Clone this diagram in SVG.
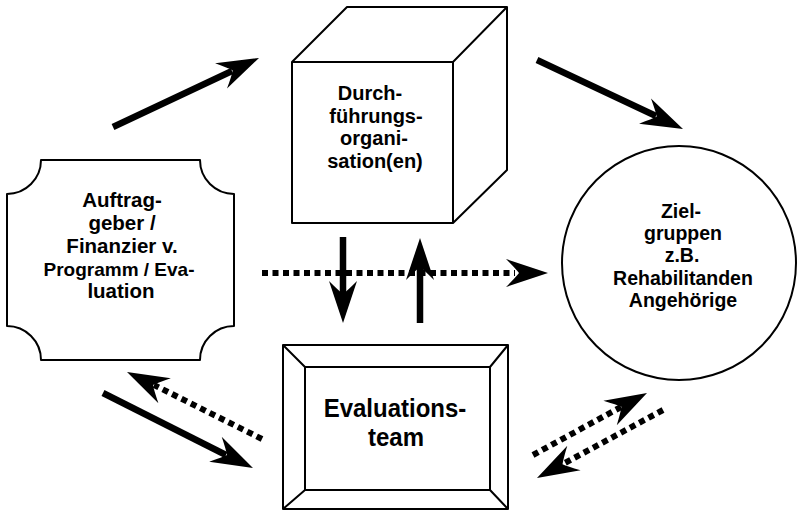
<svg xmlns="http://www.w3.org/2000/svg" width="797" height="511" viewBox="0 0 797 511">
<style>
.shape{fill:#fff;stroke:#000;stroke-width:2;stroke-linejoin:round}
.edge{fill:none;stroke:#000;stroke-width:2}
.lbl{font-family:"Liberation Sans",Arial,Helvetica,sans-serif;font-weight:bold;fill:#000;text-anchor:middle}
.solid{fill:none;stroke:#000;stroke-width:6.5;stroke-linecap:butt}
.dot{fill:none;stroke:#000;stroke-width:6;stroke-dasharray:6 4.5}
</style>
<defs>
<path id="head" d="M0,0 L-42,-14 Q-32,-4 -29,0 Q-32,4 -42,14 Z" fill="#000"/>
</defs>
<rect width="797" height="511" fill="#fff"/>

<g id="auftraggeber">
<path class="shape" d="M41,160 L200,160 A34,34 0 0 0 234,194 L234,326 A34,34 0 0 0 200,360 L41,360 A34,34 0 0 0 7,326 L7,194 A34,34 0 0 0 41,160 Z"/>
<text class="lbl" font-size="20.5" x="122" y="207">Auftrag-</text>
<text class="lbl" font-size="20.5" x="122" y="230">geber /</text>
<text class="lbl" font-size="20.5" x="122" y="253">Finanzier v.</text>
<text class="lbl" font-size="19" x="119" y="276">Programm / Eva-</text>
<text class="lbl" font-size="20.5" x="121" y="298">luation</text>
</g>

<g id="durchfuehrung">
<path class="shape" d="M292,62 L347,7 L507,7 L507,170 L453,223 L292,223 Z"/>
<path class="edge" d="M292,62 L453,62 L507,7 M453,62 L453,223"/>
<text class="lbl" font-size="20" x="370" y="100">Durch-</text>
<text class="lbl" font-size="20" x="376" y="123">führungs-</text>
<text class="lbl" font-size="20" x="374" y="145">organi-</text>
<text class="lbl" font-size="20" x="375" y="168">sation(en)</text>
</g>

<g id="zielgruppen">
<circle class="shape" cx="679" cy="263" r="117"/>
<text class="lbl" font-size="19.5" x="681" y="218">Ziel-</text>
<text class="lbl" font-size="19.5" x="683" y="240">gruppen</text>
<text class="lbl" font-size="19.5" x="682" y="262">z.B.</text>
<text class="lbl" font-size="19.5" x="683" y="285">Rehabilitanden</text>
<text class="lbl" font-size="19.5" x="683" y="307">Angehörige</text>
</g>

<g id="evaluationsteam">
<rect class="shape" x="283" y="345" width="225" height="164"/>
<rect class="edge" x="305" y="367" width="185" height="123"/>
<path class="edge" d="M283,345 L305,367 M508,345 L490,367 M283,509 L305,490 M508,509 L490,490"/>
<text class="lbl" font-size="24" transform="translate(395,417) scale(1,1.1)">Evaluations-</text>
<text class="lbl" font-size="24" transform="translate(396,446) scale(1,1.1)">team</text>
</g>

<g id="connectors">
<line class="dot" x1="262" y1="273" x2="515" y2="273"/>
<use href="#head" transform="translate(548,273)"/>

<line class="solid" x1="113" y1="127" x2="232" y2="71"/>
<use href="#head" transform="translate(259,58) rotate(-25.3)"/>

<line class="solid" x1="537" y1="60" x2="656" y2="116"/>
<use href="#head" transform="translate(683,129) rotate(25.3)"/>

<line class="solid" x1="343" y1="237" x2="343" y2="295"/>
<use href="#head" transform="translate(343,323) rotate(90)"/>

<line class="solid" x1="420" y1="323" x2="420" y2="266"/>
<use href="#head" transform="translate(420,238) rotate(-90)"/>

<line class="solid" x1="103" y1="393" x2="226" y2="455"/>
<use href="#head" transform="translate(253,468) rotate(26.6)"/>

<line class="dot" x1="262" y1="439" x2="154" y2="385"/>
<use href="#head" transform="translate(127,372) rotate(206.4)"/>

<line class="dot" x1="533" y1="455" x2="621" y2="407"/>
<use href="#head" transform="translate(647,393) rotate(-28.5)"/>

<line class="dot" x1="663" y1="410" x2="563" y2="464"/>
<use href="#head" transform="translate(537,478) rotate(151.6)"/>
</g>
</svg>
